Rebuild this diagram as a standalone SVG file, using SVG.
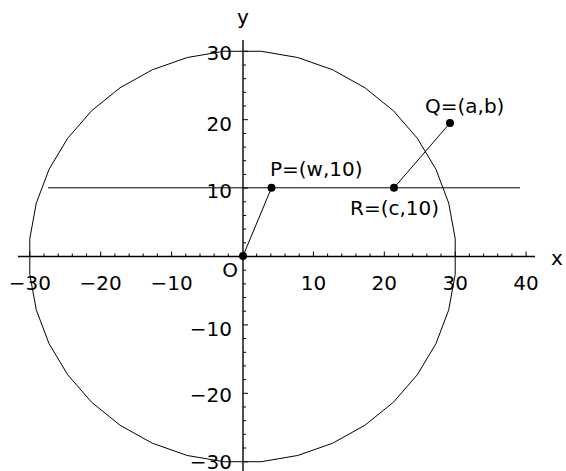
<svg xmlns="http://www.w3.org/2000/svg" width="566" height="471" viewBox="0 0 566 471">
<style>
.ax{stroke:#000;stroke-width:1.4;fill:none}
.tk{stroke:#000;stroke-width:1;fill:none}
.thin{stroke:#000;stroke-width:1;fill:none}
.lbl{font-family:"DejaVu Sans",Verdana,sans-serif;font-size:20px;fill:#000}
.dot{fill:#000}
</style>
<rect width="566" height="471" fill="#fff"/>
<g id="circle">
<polygon class="thin" points="455.19,238.55 448.73,203.18 436,169.44 417.39,138.34 393.47,110.84 364.96,87.76 332.73,69.8 297.76,57.52 261.11,51.28 223.89,51.28 187.24,57.52 152.27,69.8 120.04,87.76 91.53,110.84 67.61,138.34 49,169.44 36.27,203.18 29.81,238.55 29.81,274.45 36.27,309.82 49,343.56 67.61,374.66 91.53,402.16 120.04,425.24 152.27,443.2 187.24,455.48 223.89,461.72 261.11,461.72 297.76,455.48 332.73,443.2 364.96,425.24 393.47,402.16 417.39,374.66 436,343.56 448.73,309.82 455.19,274.45"/>
</g>
<g id="axes">
<line class="ax" x1="18" y1="256.5" x2="535" y2="256.5"/>
<line class="ax" x1="243" y1="40" x2="243" y2="471"/>
<path class="tk" d="M29.8,256.5v-5M44,256.5v-3M58.2,256.5v-3M72.3,256.5v-3M86.5,256.5v-3M100.7,256.5v-5M114.9,256.5v-3M129.1,256.5v-3M143.2,256.5v-3M157.4,256.5v-3M171.6,256.5v-5M185.8,256.5v-3M200,256.5v-3M214.1,256.5v-3M228.3,256.5v-3M256.7,256.5v-3M270.9,256.5v-3M285,256.5v-3M299.2,256.5v-3M313.4,256.5v-5M327.6,256.5v-3M341.8,256.5v-3M355.9,256.5v-3M370.1,256.5v-3M384.3,256.5v-5M398.5,256.5v-3M412.7,256.5v-3M426.8,256.5v-3M441,256.5v-3M455.2,256.5v-5M469.4,256.5v-3M483.6,256.5v-3M497.7,256.5v-3M511.9,256.5v-3M526.1,256.5v-5"/>
<path class="tk" d="M243,51.3h5M243,65h3M243,78.7h3M243,92.3h3M243,106h3M243,119.7h5M243,133.4h3M243,147.1h3M243,160.7h3M243,174.4h3M243,188.1h5M243,201.8h3M243,215.5h3M243,229.1h3M243,242.8h3M243,270.2h3M243,283.9h3M243,297.5h3M243,311.2h3M243,324.9h5M243,338.6h3M243,352.3h3M243,365.9h3M243,379.6h3M243,393.3h5M243,407h3M243,420.7h3M243,434.3h3M243,448h3M243,461.7h5"/>
</g>
<g id="tick-labels" class="lbl">
<text x="29.8" y="290" text-anchor="middle">−30</text>
<text x="100.7" y="290" text-anchor="middle">−20</text>
<text x="171.6" y="290" text-anchor="middle">−10</text>
<text x="313.4" y="290" text-anchor="middle">10</text>
<text x="384.3" y="290" text-anchor="middle">20</text>
<text x="455.2" y="290" text-anchor="middle">30</text>
<text x="526.1" y="290" text-anchor="middle">40</text>
<text x="232" y="60" text-anchor="end">30</text>
<text x="232" y="131" text-anchor="end">20</text>
<text x="232" y="198" text-anchor="end">10</text>
<text x="232" y="336" text-anchor="end">−10</text>
<text x="232" y="402" text-anchor="end">−20</text>
<text x="232" y="469" text-anchor="end">−30</text>
<text x="557" y="265" text-anchor="middle">x</text>
<text x="243" y="24" text-anchor="middle">y</text>
</g>
<g id="connectors">
<line class="thin" x1="48" y1="187.8" x2="520" y2="187.8"/>
<line class="thin" x1="243" y1="256" x2="271.5" y2="187.8"/>
<line class="thin" x1="394" y1="187.8" x2="450" y2="123"/>
</g>
<g id="O"><circle class="dot" cx="243" cy="256" r="4"/><text class="lbl" x="230" y="277" text-anchor="middle">O</text></g>
<g id="P"><circle class="dot" cx="271.5" cy="187.8" r="4"/><text class="lbl" x="270" y="176">P=(w,10)</text></g>
<g id="R"><circle class="dot" cx="394" cy="187.8" r="4"/><text class="lbl" x="350" y="215">R=(c,10)</text></g>
<g id="Q"><circle class="dot" cx="450" cy="123" r="4"/><text class="lbl" x="425" y="113">Q=(a,b)</text></g>
</svg>
